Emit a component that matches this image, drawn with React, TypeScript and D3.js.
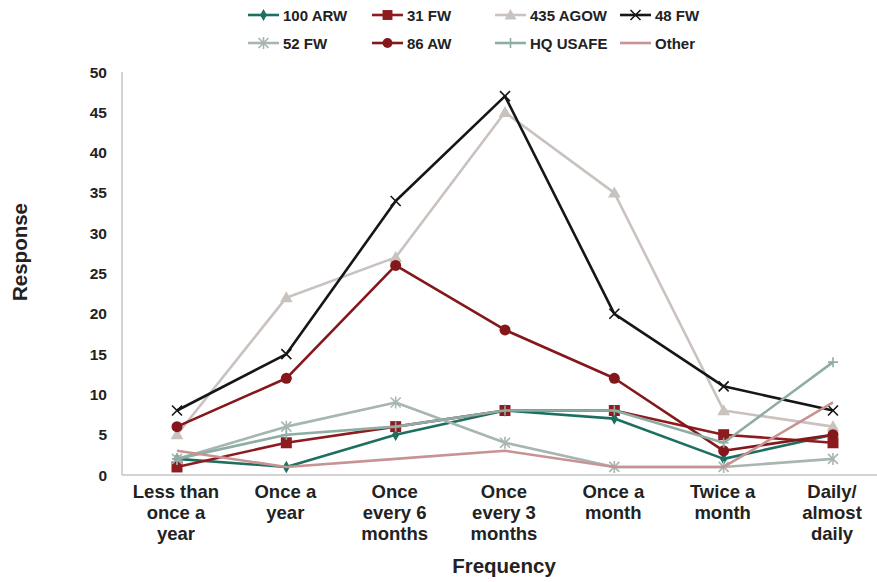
import React from "react";
import * as d3 from "d3";

const categories = [
  "Less than once a year",
  "Once a year",
  "Once every 6 months",
  "Once every 3 months",
  "Once a month",
  "Twice a month",
  "Daily/ almost daily",
];
const categoryLines = [
  ["Less than", "once a", "year"],
  ["Once a", "year"],
  ["Once", "every 6", "months"],
  ["Once", "every 3", "months"],
  ["Once a", "month"],
  ["Twice a", "month"],
  ["Daily/", "almost", "daily"],
];
const yTicks = [0, 5, 10, 15, 20, 25, 30, 35, 40, 45, 50];

const arw100 = [2, 1, 5, 8, 7, 2, 5];
const fw31 = [1, 4, 6, 8, 8, 5, 4];
const agow435 = [5, 22, 27, 45, 35, 8, 6];
const fw48 = [8, 15, 34, 47, 20, 11, 8];
const fw52 = [2, 6, 9, 4, 1, 1, 2];
const aw86 = [6, 12, 26, 18, 12, 3, 5];
const hqUsafe = [2, 5, 6, 8, 8, 4, 14];
const other = [3, 1, 2, 3, 1, 1, 9];

type Marker = "diamond" | "square" | "triangle" | "x" | "asterisk" | "circle" | "plus" | "none";
const seriesNames = ["100 ARW", "31 FW", "435 AGOW", "48 FW", "52 FW", "86 AW", "HQ USAFE", "Other"];
const seriesValues = [arw100, fw31, agow435, fw48, fw52, aw86, hqUsafe, other];
const seriesColors = ["#1d6f62", "#8e1c1e", "#cac2be", "#161616", "#a7b6b1", "#84171a", "#8dada5", "#c79393"];
const seriesMarkers: Marker[] = ["diamond", "square", "triangle", "x", "asterisk", "circle", "plus", "none"];

const W = 877;
const H = 582;
const FONT = "'Liberation Sans', Arial, sans-serif";

function MarkerShape({ kind, x, y, color, small }: { kind: Marker; x: number; y: number; color: string; small?: boolean }) {
  const s = small ? 0.9 : 1;
  switch (kind) {
    case "diamond":
      return <path d={d3.symbol(d3.symbolDiamond, 45 * s)()!} transform={`translate(${x},${y})`} fill={color} />;
    case "square":
      return <rect x={x - 5.5 * s} y={y - 5.5 * s} width={11 * s} height={11 * s} fill={color} />;
    case "triangle":
      return <path d={d3.symbol(d3.symbolTriangle, 70 * s)()!} transform={`translate(${x},${y + 1})`} fill={color} />;
    case "circle":
      return <circle cx={x} cy={y} r={5.5 * s} fill={color} />;
    case "x": {
      const r = 5;
      return (
        <path d={`M${x - r},${y - r}L${x + r},${y + r}M${x - r},${y + r}L${x + r},${y - r}`} stroke={color} strokeWidth={1.6} />
      );
    }
    case "asterisk": {
      const r = 5;
      return (
        <path
          d={`M${x - r},${y - r}L${x + r},${y + r}M${x - r},${y + r}L${x + r},${y - r}M${x},${y - r - 1}L${x},${y + r + 1}`}
          stroke={color}
          strokeWidth={1.6}
        />
      );
    }
    case "plus": {
      const r = 5;
      return <path d={`M${x},${y - r}L${x},${y + r}M${x - r},${y}L${x + r},${y}`} stroke={color} strokeWidth={1.6} />;
    }
    default:
      return null;
  }
}

export default function App() {
  const x = d3.scalePoint<string>().domain(categories).range([177, 833]);
  const y = d3.scaleLinear().domain([0, 50]).range([475, 72]);
  const line = d3
    .line<number>()
    .x((_, i) => x(categories[i])!)
    .y((d) => y(d));

  const legendCols = [248, 372, 495, 620];
  const legendRows = [15, 43];

  return (
    <svg width={W} height={H} style={{ position: "absolute", left: 0, top: 0, background: "#fff" }}>
      <rect width={W} height={H} fill="#fff" />
      {/* axes */}
      <line x1={122} y1={72} x2={122} y2={475} stroke="#c4c4c4" strokeWidth={1.5} />
      <line x1={122} y1={475} x2={877} y2={475} stroke="#c4c4c4" strokeWidth={1.5} />
      {yTicks.map((t) => (
        <text key={t} x={107} y={y(t)} textAnchor="end" dominantBaseline="central" fontFamily={FONT} fontWeight="bold" fontSize={15.5} fill="#222">
          {t}
        </text>
      ))}
      {categoryLines.map((lines, i) => (
        <text key={i} textAnchor="middle" fontFamily={FONT} fontWeight="bold" fontSize={18.5} fill="#222">
          {lines.map((l, j) => (
            <tspan key={j} x={x(categories[i])! - 1} y={498 + j * 21}>
              {l}
            </tspan>
          ))}
        </text>
      ))}
      <text x={504} y={573} textAnchor="middle" fontFamily={FONT} fontWeight="bold" fontSize={20.5} fill="#222">
        Frequency
      </text>
      <text transform="translate(27,252) rotate(-90)" textAnchor="middle" fontFamily={FONT} fontWeight="bold" fontSize={20.5} fill="#222">
        Response
      </text>
      {/* series */}
      {seriesValues.map((vals, si) => (
        <g key={si}>
          <path d={line(vals)!} fill="none" stroke={seriesColors[si]} strokeWidth={2.6} strokeLinejoin="round" />
          {vals.map((v, i) => (
            <MarkerShape key={i} kind={seriesMarkers[si]} x={x(categories[i])!} y={y(v)} color={seriesColors[si]} />
          ))}
        </g>
      ))}
      {/* legend */}
      {seriesNames.map((name, i) => {
        const cx = legendCols[i % 4];
        const cy = legendRows[Math.floor(i / 4)];
        return (
          <g key={name}>
            <line x1={cx} y1={cy} x2={cx + 31} y2={cy} stroke={seriesColors[i]} strokeWidth={2.6} />
            <MarkerShape kind={seriesMarkers[i]} x={cx + 15.5} y={cy} color={seriesColors[i]} small />
            <text x={cx + 35} y={cy} dominantBaseline="central" fontFamily={FONT} fontWeight="bold" fontSize={15} fill="#222">
              {name}
            </text>
          </g>
        );
      })}
    </svg>
  );
}
